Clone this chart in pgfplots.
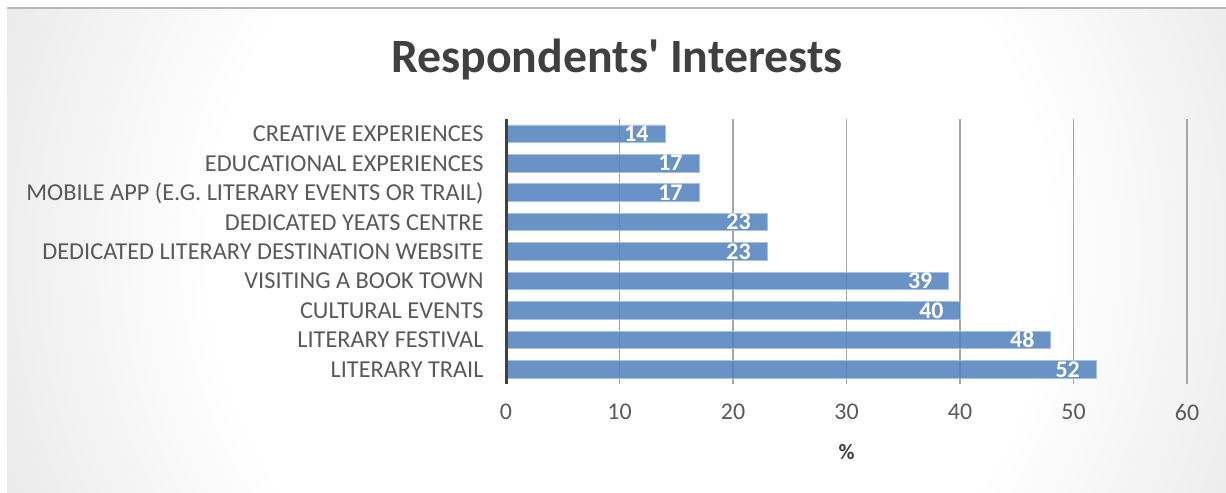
\documentclass[border=0pt]{standalone}
\usepackage{pgfplots}
\pgfplotsset{compat=1.18}
\usepackage{fontspec}
\setmainfont{Carlito}
\newfontfamily\titlefont{Carlito}
\definecolor{barblue}{HTML}{4F81BD}
\definecolor{baredge}{HTML}{A9C1E0}
\definecolor{titlegray}{HTML}{404040}
\definecolor{labelgray}{HTML}{595959}
\definecolor{gridgray}{HTML}{A6A6A6}
\pgfdeclareradialshading{bgshade}{\pgfpoint{0bp}{0bp}}{color(0bp)=(white); color(15bp)=(white); color(27bp)=(black!11); color(33bp)=(black!15); color(40bp)=(black!20); color(44bp)=(black!23); color(47bp)=(black!25); color(50bp)=(black!27)}
\begin{document}
\begin{tikzpicture}[x=1bp,y=1bp]
\path[use as bounding box] (0,0) rectangle (1226,493);
\fill[white] (0,0) rectangle (1226,493);
\begin{scope}
\clip (7,0) rectangle (1226,485);
\shade[shading=bgshade] (-70,-457) rectangle (1330,943);
\end{scope}
\draw[black!28, line width=1.5bp] (7,485) -- (1226,485);
\node[anchor=base, font=\titlefont\bfseries\fontsize{48}{48}\selectfont, text=titlegray] at (617,420) {Respondents' Interests};
\node[anchor=base, font=\bfseries\fontsize{22}{22}\selectfont, text=titlegray] at (846.5,33) {\%};
\begin{axis}[
  at={(506bp,109bp)}, anchor=south west,
  scale only axis, width=681bp, height=265bp,
  clip=false,
  xbar, bar width=17.5bp,
  xmin=0, xmax=60, ymin=-0.5, ymax=8.5,
  xtick={0,10,...,60},
  ytick={0,...,8},
  yticklabels={LITERARY TRAIL, LITERARY FESTIVAL, CULTURAL EVENTS, VISITING A BOOK TOWN, DEDICATED LITERARY DESTINATION WEBSITE, DEDICATED YEATS CENTRE, MOBILE APP (E.G. LITERARY EVENTS OR TRAIL), EDUCATIONAL EXPERIENCES, CREATIVE EXPERIENCES},
  axis line style={draw=none},
  tick style={draw=none},
  xmajorgrids,
  grid style={gridgray, line width=1.3bp},
  /pgf/number format/assume math mode=true,
  xticklabel style={inner sep=0pt, yshift=-20bp, font=\fontsize{24}{24}\selectfont, text=labelgray},
  yticklabel style={inner sep=0pt, anchor=base east, xshift=-18bp, yshift=-8bp, font=\fontsize{24.4}{24.4}\selectfont, text=labelgray},
  nodes near coords,
  every node near coord/.append style={anchor=east, inner sep=0pt, xshift=-16bp, font=\bfseries\fontsize{24}{24}\selectfont, text=white},
]
\addplot[fill=barblue, fill opacity=0.85, draw=baredge, line width=0.8bp, text opacity=1] coordinates {
(52,0) (48,1) (40,2) (39,3) (23,4) (23,5) (17,6) (17,7) (14,8)
};
\draw[titlegray, line width=3bp] (axis cs:0,-0.5) -- (axis cs:0,8.5);
\end{axis}
\end{tikzpicture}
\end{document}
